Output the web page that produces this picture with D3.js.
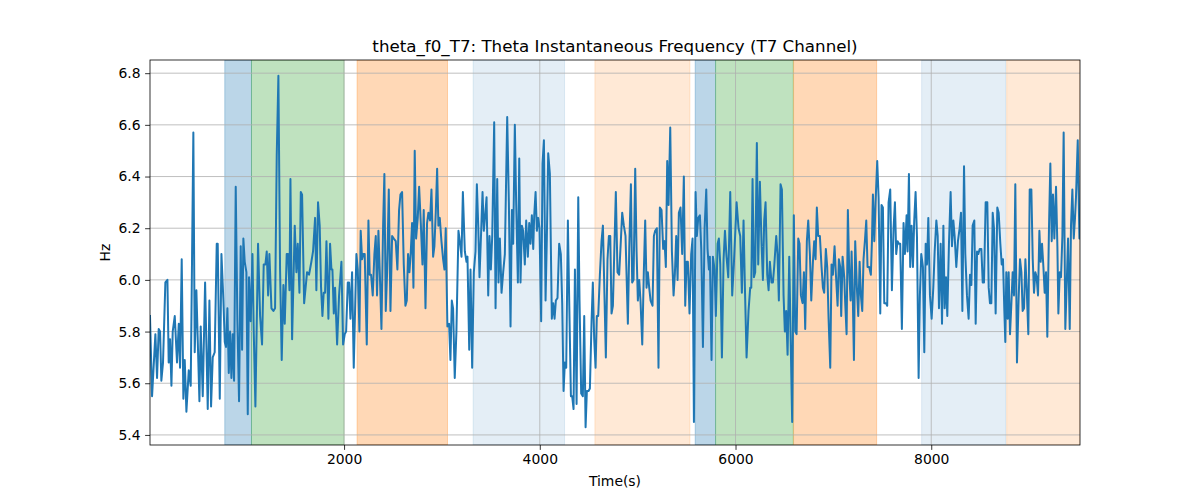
<!DOCTYPE html>
<html>
<head>
<meta charset="utf-8">
<script src="https://cdn.jsdelivr.net/npm/d3@7"></script>
<style>
  body { margin: 0; background: #fff; }
  text { font-family: "DejaVu Sans", sans-serif; fill: #000; }
</style>
</head>
<body>
<div id="chart"></div>
<script>
// time (s) and instantaneous frequency (Hz)
const times = [
  17,38,72,89,106,120,133,150,174,195,208,222,236,249,270,293,311,324,341,358,372,389,413,433,460,474,491,522,535,556,
  580,607,624,641,658,678,699,709,730,747,767,781,794,808,822,835,849,862,876,893,910,927,944,958,971,985,1002,1016,1029,1046,
  1064,1077,1094,1121,1142,1162,1179,1196,1210,1224,1237,1258,1278,1295,1312,1329,1346,1363,1380,1394,1414,1428,1442,1452,1469,1496,1513,1527,1544,1558,
  1571,1592,1622,1642,1666,1683,1704,1717,1734,1751,1765,1779,1792,1806,1820,1840,1857,1871,1881,1895,1908,1929,1949,1973,1990,2007,2021,2038,2051,2065,
  2082,2099,2116,2126,2140,2157,2170,2184,2198,2211,2232,2249,2262,2276,2293,2310,2324,2337,2351,2365,2382,2399,2412,2426,2440,2457,2474,2491,2508,2528,
  2545,2562,2576,2593,2610,2627,2641,2654,2668,2682,2695,2709,2722,2736,2753,2767,2784,2801,2814,2832,2848,2862,2879,2893,2910,2923,2937,2951,2964,2978,
  2995,3012,3026,3039,3056,3073,3087,3101,3114,3131,3148,3169,3183,3200,3214,3234,3251,3261,3279,3292,3309,3326,3343,3357,3371,3384,3401,3415,3428,3442,
  3456,3473,3486,3500,3514,3534,3548,3565,3578,3592,3609,3626,3643,3667,3684,3701,3715,3728,3745,3759,3776,3790,3803,3817,3830,3847,3861,3878,3892,3905,
  3919,3933,3943,3957,3970,3984,3997,4014,4028,4042,4059,4072,4086,4103,4123,4137,4151,4164,4181,4198,4215,4229,4243,4256,4270,4287,4301,4318,4331,4345,
  4359,4376,4393,4406,4423,4440,4454,4468,4481,4498,4512,4529,4542,4556,4570,4583,4597,4614,4631,4645,4662,4675,4692,4706,4720,4733,4747,4777,4794,4811,
  4828,4842,4859,4876,4900,4914,4931,4944,4958,4975,4989,5002,5016,5029,5047,5063,5077,5091,5104,5118,5132,5152,5166,5179,5196,5213,5227,5244,5261,5275,
  5288,5302,5316,5333,5350,5367,5380,5394,5408,5421,5438,5455,5472,5486,5500,5513,5530,5547,5561,5575,5592,5605,5619,5636,5650,5667,5684,5701,5714,5728,
  5738,5755,5769,5786,5799,5817,5830,5844,5861,5878,5892,5908,5926,5946,5966,5983,6011,6031,6048,6065,6082,6096,6113,6133,6150,6161,6174,6188,6201,6218,
  6232,6249,6266,6280,6293,6307,6324,6338,6351,6368,6382,6395,6416,6429,6443,6460,6474,6491,6504,6518,6532,6549,6562,6579,6596,6610,6624,6641,6654,6668,
  6685,6699,6712,6729,6743,6760,6774,6791,6804,6818,6831,6845,6862,6879,6893,6906,6923,6937,6951,6968,6981,6995,7012,7026,7043,7056,7070,7080,7094,7111,
  7121,7135,7148,7162,7176,7186,7199,7210,7223,7240,7254,7268,7281,7295,7308,7322,7336,7349,7366,7383,7394,7404,7418,7431,7448,7462,7479,7492,7506,7520,
  7537,7550,7564,7581,7598,7615,7629,7642,7656,7670,7683,7700,7717,7731,7748,7758,7772,7785,7799,7813,7826,7840,7854,7871,7884,7898,7915,7929,7943,7957,
  7970,7987,8004,8021,8035,8052,8066,8079,8096,8110,8124,8137,8151,8164,8181,8198,8212,8226,8239,8256,8273,8290,8304,8318,8335,8348,8365,8382,8396,8410,
  8423,8440,8454,8468,8481,8495,8512,8526,8539,8556,8573,8587,8600,8614,8628,8641,8658,8675,8689,8706,8720,8733,8747,8757,8767,8781,8791,8805,8819,8832,
  8846,8859,8876,8893,8907,8921,8934,8948,8962,8975,8992,9006,9023,9037,9050,9064,9077,9091,9105,9118,9132,9146,9159,9173,9186,9203,9217,9231,9244,9258,
  9275,9289,9299,9313,9326,9340,9353,9370,9384,9398,9415,9428,9442,9456,9469,9479,9497,9514,9520
];
const hz = [
  5.86,5.55,5.79,5.62,5.81,5.80,5.61,5.68,5.99,6.00,5.68,5.77,5.59,5.80,5.86,5.68,5.83,5.66,6.08,5.54,5.69,5.49,5.65,5.59,6.57,5.72,5.96,5.53,5.82,5.55,
  5.99,5.50,5.92,5.51,5.70,5.72,6.14,6.14,5.54,6.10,5.92,5.76,5.74,5.89,5.64,5.80,5.62,5.79,5.61,6.36,5.84,5.53,6.13,5.73,6.16,6.07,6.03,5.48,6.01,5.84,
  6.10,5.80,5.51,6.14,5.86,5.75,6.06,6.06,6.11,5.94,6.10,5.89,5.88,5.89,6.48,6.79,6.04,5.69,5.98,5.83,6.10,6.10,5.96,6.39,5.77,6.21,6.03,6.14,5.95,6.34,
  6.33,5.91,6.03,6.02,6.07,6.11,6.24,5.96,6.30,6.21,5.97,5.86,5.95,5.95,6.15,5.85,6.14,6.04,6.04,5.87,5.97,5.75,5.94,6.07,5.75,5.79,5.80,5.99,5.99,5.85,
  6.03,5.66,5.94,6.10,6.04,5.80,6.19,6.08,6.10,6.10,5.75,6.23,6.02,6.02,5.94,6.10,6.17,5.94,6.19,6.03,5.81,6.21,6.41,5.88,6.03,6.35,5.88,6.17,6.16,6.15,
  6.04,6.27,6.33,6.34,6.06,5.90,5.92,6.10,6.03,6.11,6.22,5.97,6.50,6.16,6.24,6.36,6.22,6.06,6.27,5.89,6.22,6.26,6.23,6.35,6.09,6.13,6.26,6.43,6.21,6.24,
  6.15,6.08,6.04,6.20,5.82,5.83,5.69,5.92,5.89,5.62,5.80,6.19,6.15,6.09,6.34,6.11,6.07,6.09,5.73,6.04,5.66,6.03,6.11,6.37,6.21,6.01,6.19,6.34,6.19,6.25,
  6.32,5.94,6.17,6.04,6.17,6.61,5.89,6.39,5.99,6.16,5.95,6.03,6.10,6.63,6.30,5.82,6.27,6.14,6.60,6.29,5.99,6.47,5.99,6.21,6.19,6.06,6.23,6.09,6.22,6.14,
  6.25,6.12,6.25,6.34,6.19,6.24,6.20,5.84,6.45,6.54,5.92,6.16,6.49,6.41,5.85,5.91,5.85,5.92,5.93,6.14,6.10,5.91,5.57,5.68,5.66,6.23,5.91,5.55,5.55,5.50,
  6.04,5.52,6.32,5.92,5.56,5.55,5.86,5.43,5.57,5.57,5.58,5.84,5.99,5.77,5.66,5.86,5.86,6.02,6.15,6.21,5.92,5.70,6.08,6.17,6.17,5.87,5.90,6.34,6.03,6.02,
  6.15,6.26,6.21,6.17,5.83,6.12,6.37,5.99,6.00,6.43,6.11,5.92,6.00,5.92,5.75,6.03,6.23,5.97,6.03,5.97,5.92,5.90,6.17,6.19,6.20,5.66,6.28,6.27,6.12,6.15,
  6.05,6.46,6.29,6.59,6.11,5.94,6.02,6.17,6.00,6.26,6.28,6.10,6.40,5.90,6.07,6.07,5.87,6.10,6.16,5.45,6.34,6.17,6.24,6.25,6.12,5.74,6.20,6.35,6.12,6.04,
  6.09,5.69,6.09,6.04,5.86,6.14,6.16,6.06,5.70,6.08,6.19,6.09,6.01,6.34,5.94,6.06,6.30,6.20,6.17,5.95,6.23,5.97,5.70,5.88,5.97,5.97,6.39,6.01,6.03,6.53,
  6.06,6.38,6.14,6.00,6.23,6.30,6.02,5.96,6.07,5.99,5.99,6.05,6.17,6.10,5.92,6.37,6.35,5.94,5.80,5.88,5.71,6.09,5.80,5.45,6.25,5.80,5.79,6.16,6.14,5.94,
  5.91,6.03,5.81,6.15,6.23,6.10,5.92,6.07,6.15,6.08,6.28,6.17,6.17,6.05,5.97,5.95,6.12,6.05,5.85,5.66,6.06,6.02,6.13,6.02,5.90,6.08,6.05,5.86,6.09,6.01,
  5.91,5.79,6.27,6.03,5.92,6.11,5.92,5.69,6.15,5.97,5.86,6.07,5.94,5.88,6.08,6.15,6.23,6.05,6.05,6.02,6.15,6.33,6.15,6.30,6.46,6.32,5.87,6.29,6.28,5.91,
  5.91,5.90,6.30,6.35,5.96,6.20,6.30,6.10,6.15,6.14,6.14,5.81,6.22,6.10,6.25,6.11,6.41,6.05,6.21,6.05,6.23,6.34,6.17,5.62,5.94,6.10,6.05,5.72,6.14,6.06,
  6.24,5.94,5.85,5.97,6.11,6.23,6.17,5.89,6.14,5.83,6.21,5.89,6.01,5.86,6.14,6.34,6.13,6.23,6.17,6.05,6.15,6.20,6.26,5.88,6.44,6.10,5.94,5.85,6.02,5.98,
  6.21,6.23,5.83,6.11,6.10,6.12,6.12,5.99,5.99,6.30,6.30,5.97,5.91,5.91,6.26,6.20,5.87,6.28,6.26,6.14,6.06,6.08,5.88,5.76,6.03,5.85,6.03,5.79,5.91,6.03,
  5.94,6.37,5.68,5.93,6.08,6.03,5.88,5.89,6.08,5.97,5.79,6.35,6.35,6.08,5.95,6.03,6.01,5.94,6.19,6.07,6.14,6.05,5.95,6.03,5.78,6.20,6.45,6.15,6.33,6.16,
  6.36,6.13,5.87,6.03,6.01,6.17,6.57,5.81,5.98,6.16,5.81,6.21,6.35,6.16,6.24,6.32,6.54,6.16,6.16
];

// shaded periods
const spanStart = [781, 1054, 2133, 3319, 4563, 5588, 5796, 6593, 7902, 8771];
const spanEnd   = [1054, 2000, 3057, 4253, 5534, 5796, 6590, 7442, 8761, 9520];
const spanColor = ["#1f77b4", "#2ca02c", "#ff7f0e", "#1f77b4", "#ff7f0e", "#1f77b4", "#2ca02c", "#ff7f0e", "#1f77b4", "#ff7f0e"];
const spanAlpha = [0.3, 0.3, 0.3, 0.12, 0.17, 0.3, 0.3, 0.3, 0.12, 0.17];

const xTicks = [2000, 4000, 6000, 8000];
const yTicks = [5.4, 5.6, 5.8, 6.0, 6.2, 6.4, 6.6, 6.8];

const width = 1200, height = 500;
const margin = {top: 60, right: 120, bottom: 55, left: 150};
const iw = width - margin.left - margin.right;
const ih = height - margin.top - margin.bottom;

const data = times.map((t, i) => ({t: t, v: hz[i]}));
const spans = spanStart.map((s, i) => ({s: s, e: spanEnd[i], c: spanColor[i], a: spanAlpha[i]}));

const x = d3.scaleLinear().domain([17, 9520]).range([0, iw]);
const y = d3.scaleLinear().domain([5.361, 6.851]).range([ih, 0]);

const svg = d3.select("#chart").append("svg")
    .attr("width", width)
    .attr("height", height);

svg.append("defs").append("clipPath")
    .attr("id", "clip")
  .append("rect")
    .attr("width", iw)
    .attr("height", ih);

const g = svg.append("g")
    .attr("transform", `translate(${margin.left},${margin.top})`);

// spans
g.append("g")
    .attr("clip-path", "url(#clip)")
  .selectAll("rect")
  .data(spans)
  .join("rect")
    .attr("x", d => x(d.s))
    .attr("width", d => x(d.e) - x(d.s))
    .attr("y", 0)
    .attr("height", ih)
    .attr("fill", d => d.c)
    .attr("fill-opacity", d => d.a)
    .attr("stroke", d => d.c)
    .attr("stroke-opacity", d => d.a)
    .attr("stroke-width", 1);

// grid
g.append("g")
  .selectAll("line")
  .data(xTicks)
  .join("line")
    .attr("x1", d => x(d)).attr("x2", d => x(d))
    .attr("y1", 0).attr("y2", ih)
    .attr("stroke", "#b0b0b0")
    .attr("stroke-width", 0.8);

g.append("g")
  .selectAll("line")
  .data(yTicks)
  .join("line")
    .attr("x1", 0).attr("x2", iw)
    .attr("y1", d => y(d)).attr("y2", d => y(d))
    .attr("stroke", "#b0b0b0")
    .attr("stroke-width", 0.8);

// the series
const line = d3.line()
    .x(d => x(d.t))
    .y(d => y(d.v));

g.append("path")
    .datum(data)
    .attr("clip-path", "url(#clip)")
    .attr("fill", "none")
    .attr("stroke", "#1f77b4")
    .attr("stroke-width", 2)
    .attr("stroke-linejoin", "round")
    .attr("stroke-linecap", "square")
    .attr("d", line);

// axes
const xAxis = g.append("g")
    .attr("transform", `translate(0,${ih})`)
    .call(d3.axisBottom(x).tickValues(xTicks).tickFormat(d3.format("d")).tickSize(4.9).tickPadding(4.5));

const yAxis = g.append("g")
    .call(d3.axisLeft(y).tickValues(yTicks).tickFormat(d3.format(".1f")).tickSize(4.9).tickPadding(4.5));

[xAxis, yAxis].forEach(a => {
  a.select(".domain").remove();
  a.selectAll("line").attr("stroke", "#000").attr("stroke-width", 0.8);
  a.selectAll("text").attr("font-size", 13.9).attr("font-family", "DejaVu Sans").attr("fill", "#000");
});

// frame
g.append("rect")
    .attr("width", iw)
    .attr("height", ih)
    .attr("fill", "none")
    .attr("stroke", "#000")
    .attr("stroke-width", 0.8);

svg.append("text")
    .attr("x", margin.left + iw / 2)
    .attr("y", 52)
    .attr("text-anchor", "middle")
    .attr("font-size", 16.7)
    .text("theta_f0_T7: Theta Instantaneous Frequency (T7 Channel)");

svg.append("text")
    .attr("x", margin.left + iw / 2)
    .attr("y", 486)
    .attr("text-anchor", "middle")
    .attr("font-size", 13.9)
    .text("Time(s)");

svg.append("text")
    .attr("transform", `translate(110,${margin.top + ih / 2}) rotate(-90)`)
    .attr("text-anchor", "middle")
    .attr("font-size", 13.9)
    .text("Hz");
</script>
</body>
</html>
